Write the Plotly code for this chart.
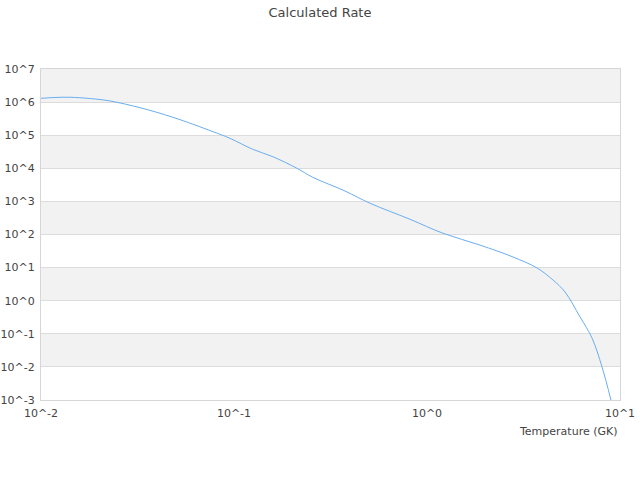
import plotly.graph_objects as go

temperature = [0.01, 0.0118, 0.0141, 0.0180, 0.0228, 0.0326, 0.0483, 0.0778, 0.0953,
               0.125, 0.159, 0.212, 0.256, 0.376, 0.507, 0.817, 1.21, 1.88, 2.79,
               3.72, 4.50, 5.19, 6.21, 7.16, 8.07, 8.98]
rate = [1.30e6, 1.38e6, 1.40e6, 1.28e6, 1.08e6, 6.78e5, 3.47e5, 1.28e5, 8.06e4,
        3.75e4, 2.24e4, 1.0e4, 5.35e3, 2.06e3, 877, 288, 109, 48, 20.9,
        9.7, 4.2, 1.83, 0.322, 0.0747, 0.00993, 0.001]

y_tick_vals = [1e-3, 1e-2, 1e-1, 1, 10, 100, 1e3, 1e4, 1e5, 1e6, 1e7]
y_tick_text = ["10^-3", "10^-2", "10^-1", "10^0", "10^1", "10^2", "10^3",
               "10^4", "10^5", "10^6", "10^7"]
x_tick_vals = [0.01, 0.1, 1, 10]
x_tick_text = ["10^-2", "10^-1", "10^0", "10^1"]
band_decades = [(6, 7), (4, 5), (2, 3), (0, 1), (-2, -1)]

fig = go.Figure()
fig.add_trace(go.Scatter(x=temperature, y=rate, mode="lines",
                         line=dict(color="#6aaef0", width=1), showlegend=False,
                         line_shape="spline"))

for lo, hi in band_decades:
    fig.add_shape(type="rect", xref="paper", yref="y", x0=0, x1=1,
                  y0=10 ** lo, y1=10 ** hi,
                  fillcolor="#f2f2f2", line_width=0, layer="below")

fig.update_layout(
    width=640, height=480,
    margin=dict(l=41, r=20, t=69, b=80),
    paper_bgcolor="white", plot_bgcolor="white",
    font=dict(family="DejaVu Sans", size=11, color="#444"),
    title=dict(text="Calculated Rate", x=0.5, xanchor="center", y=0.975, yanchor="middle",
               font=dict(size=13, color="#444")),
    xaxis=dict(type="log", range=[-2, 1], tickvals=x_tick_vals, ticktext=x_tick_text,
               showgrid=False, showline=True, linecolor="#d6d6d6", mirror=True,
               zeroline=False, ticks="", automargin=False, ticklabelstandoff=3,
               tickfont=dict(size=11, color="#444")),
    yaxis=dict(type="log", range=[-3, 7], tickvals=y_tick_vals, ticktext=y_tick_text,
               showgrid=True, gridcolor="#dcdcdc", showline=True, linecolor="#d6d6d6",
               mirror=True, zeroline=False, ticks="", automargin=False, ticklabelstandoff=3,
               tickfont=dict(size=11, color="#444")),
    annotations=[dict(text="Temperature (GK)", xref="paper", yref="paper", x=1, y=-0.07,
                      xanchor="right", yanchor="top", showarrow=False,
                      font=dict(size=11, color="#444"))],
)

fig.write_html("out.html", config={"displayModeBar": False},
               post_script="document.body.style.margin='0';")
